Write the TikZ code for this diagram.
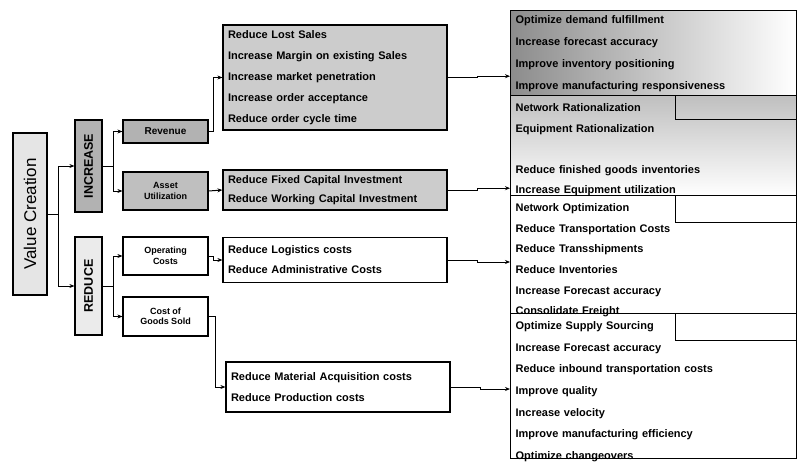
\documentclass[tikz,border=0pt]{standalone}
\usepackage{fontspec}
\setmainfont{Liberation Sans}
\usetikzlibrary{arrows.meta}
\newcommand\listfont[1]{\fontsize{11}{#1}\selectfont\bfseries}
\tikzset{
  box/.style={draw, line width=1.2pt, align=center, inner sep=1pt},
  vbox/.style={box, rotate=90, font=\fontsize{12.5}{14}\selectfont\bfseries},
  small/.style={box, minimum width=85pt, font=\fontsize{9}{10.5}\selectfont\bfseries},
  listbox/.style={draw, line width=1.2pt, text width=214pt, align=left, inner xsep=5pt, font=\listfont{21}},
  grpbox/.style={draw, line width=1.2pt, anchor=north west, text width=276pt, align=left, inner xsep=5pt, inner ysep=0pt, text height=16pt},
  tabbox/.style={draw, line width=1pt, anchor=north east, minimum width=121pt, minimum height=24pt}
}
\begin{document}
\begin{tikzpicture}[x=1pt,y=-1pt]
      \useasboundingbox (0,0) rectangle (797,471);
      % left tree (rotated boxes: north is left, south is right)
      \node[box, rotate=90, fill=black!10, minimum width=162pt, minimum height=34pt,
        font=\fontsize{17}{20}\selectfont] (vc) at (30,214) {Value Creation};
      \node[vbox, fill=black!30, minimum width=92pt, minimum height=27pt] (inc) at (88.5,166) {INCREASE};
      \node[vbox, fill=black!8, minimum width=98pt, minimum height=27pt] (red) at (88.5,286) {REDUCE};
      \node[small, fill=black!30, minimum height=23pt, font=\fontsize{10}{12}\selectfont\bfseries] (rev) at (165.5,131.5) {Revenue};
      \node[small, fill=black!25, minimum height=38pt] (asset) at (165.5,191) {Asset\\Utilization};
      \node[small, minimum height=38pt] (op) at (165.5,256) {Operating\\Costs};
      \node[small, minimum height=39pt] (cogs) at (165.5,316.5) {Cost of\\Goods Sold};
      % middle lists
      \node[listbox, fill=black!20, minimum height=105pt] (revlist) at (335,77.5)
        {Reduce Lost Sales\\Increase Margin on existing Sales\\Increase market penetration\\
         Increase order acceptance\\Reduce order cycle time};
      \node[listbox, fill=black!20, minimum height=40pt, font=\listfont{19}] (assetlist) at (335,190)
        {Reduce Fixed Capital Investment\\Reduce Working Capital Investment};
      \node[listbox, minimum height=45pt, font=\listfont{20}] (oplist) at (335,260)
        {Reduce Logistics costs\\Reduce Administrative Costs};
      \node[listbox, minimum height=50pt] (cogslist) at (338,387)
        {Reduce Material Acquisition costs\\Reduce Production costs};
      % right column
      \node[grpbox, left color=black!45, right color=white, text height=13pt, text depth=72pt,
        font=\listfont{22}] (g1) at (510,10)
        {Optimize demand fulfillment\\Increase forecast accuracy\\Improve inventory positioning\\
         Improve manufacturing responsiveness};
      \node[grpbox, top color=black!25, bottom color=white, text depth=84pt, font=\listfont{20.5}] (g2) at (510,95)
        {Network Rationalization\\Equipment Rationalization\\[20.5pt]
         Reduce finished goods inventories\\Increase Equipment utilization};
      \node[grpbox, text depth=102pt, font=\listfont{20.6}] (g3) at (510,195)
        {Network Optimization\\Reduce Transportation Costs\\Reduce Transshipments\\
         Reduce Inventories\\Increase Forecast accuracy\\Consolidate Freight};
      \node[grpbox, text depth=129pt, font=\listfont{21.6}] (g4) at (510,313)
        {Optimize Supply Sourcing\\Increase Forecast accuracy\\Reduce inbound transportation costs\\
         Improve quality\\Increase velocity\\Improve manufacturing efficiency\\Optimize changeovers};
      \node[tabbox] (g2tab) at (g2.north east) {};
      \node[tabbox, minimum height=27pt] (g3tab) at (g3.north east) {};
      \node[tabbox, minimum height=27pt] (g4tab) at (g4.north east) {};
      \begin{scope}[-{Stealth[length=5pt,width=4pt]}, line width=1pt]
        \draw (vc.south) -- ++(11,0) |- (inc.north);
        \draw (vc.south) -- ++(11,0) |- (red.north);
        \draw (inc.south) -- ++(11,0) |- (rev.west);
        \draw (inc.south) -- ++(11,0) |- (asset.west);
        \draw (red.south) -- ++(11,0) |- (op.west);
        \draw (red.south) -- ++(11,0) |- (cogs.west);
        \draw (rev.east) -- ++(5,0) |- (revlist.west);
        \draw (asset.east) -- (assetlist.west);
        \draw (op.east) -- ++(5,0) |- (oplist.west);
        \draw (cogs.east) -- ++(7,0) |- (cogslist.west);
        \draw (revlist.east) -- ++(30,0) |- ([yshift=20pt]g1.south west);
        \draw (assetlist.east) -- ++(30,0) |- ([yshift=8pt]g2.south west);
        \draw (oplist.east) -- ++(30,0) |- ([yshift=-67pt]g3.north west);
        \draw (cogslist.east) -- ++(30,0) |- ([yshift=-76pt]g4.north west);
      \end{scope}
    \end{tikzpicture}
\end{document}
